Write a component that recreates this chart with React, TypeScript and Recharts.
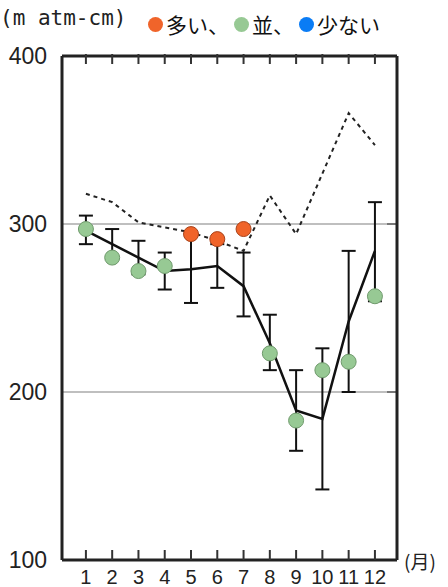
import React from 'react'
import {
  ComposedChart,
  Line,
  XAxis,
  YAxis,
  CartesianGrid,
  ErrorBar,
  ReferenceLine,
} from 'recharts'

// months and values
const months = [1, 2, 3, 4, 5, 6, 7, 8, 9, 10, 11, 12]
const meanValues = [296, 288, 280, 272, 273, 275, 263, 229, 189, 184, 242, 284]
const errLow = [8, 9, 10, 11, 20, 13, 18, 16, 24, 42, 42, 30]
const errHigh = [9, 9, 10, 11, 20, 13, 20, 17, 24, 42, 42, 29]
const dottedValues = [318, 313, 301, 298, 295, 290, 284, 317, 294, 330, 366, 347]
const observed = [297, 280, 272, 275, 294, 291, 297, 223, 183, 213, 218, 257]
const level = ['n', 'n', 'n', 'n', 'h', 'h', 'h', 'n', 'n', 'n', 'n', 'n']
const yTicks = [100, 200, 300, 400]
const rightTicks = [200, 300]

const X_DOMAIN: [number, number] = [0.09, 12.84]
const Y_DOMAIN: [number, number] = [100, 400]

const ORANGE = '#f0642a'
const GREEN = '#97c994'
const BLUE = '#0a7cf5'

const data = months.map((m, i) => ({
  m,
  mean: meanValues[i],
  err: [errLow[i], errHigh[i]],
  dotted: dottedValues[i],
  high: level[i] === 'h' ? observed[i] : null,
  normal: level[i] === 'n' ? observed[i] : null,
}))

const font = "'Liberation Sans', Arial, sans-serif"

const BottomTick = ({ x, y, payload }: any) => (
  <g>
    <line x1={x} x2={x} y1={y} y2={y - 10} stroke="#333" strokeWidth={2} />
    <text x={x} y={y + 24} textAnchor="middle" fontSize={20} fontFamily={font} fill="#222">
      {payload.value}
    </text>
  </g>
)

// draws a short inward tick under the top frame line
const TopTick = ({ x, y }: any) => (
  <line x1={x} x2={x} y1={y} y2={y + 10} stroke="#333" strokeWidth={2} />
)

export default function App() {
  return (
    <div
      style={{
        position: 'absolute',
        left: 0,
        top: 0,
        width: 448,
        height: 587,
        background: '#fff',
        overflow: 'hidden',
      }}
    >
      <ComposedChart
        width={448}
        height={587}
        data={data}
        margin={{ top: 55, right: 50, left: 0, bottom: 0 }}
      >
        <CartesianGrid
          xAxisId="b"
          horizontal
          vertical={false}
          stroke="#aaa"
          strokeWidth={1.5}
        />
        <XAxis
          xAxisId="b"
          dataKey="m"
          type="number"
          domain={X_DOMAIN}
          ticks={months}
          interval={0}
          height={27}
          tickSize={0}
          tickMargin={0}
          tick={<BottomTick />}
          axisLine={{ stroke: '#222', strokeWidth: 3 }}
        />
        <XAxis
          xAxisId="t"
          orientation="top"
          dataKey="m"
          type="number"
          domain={X_DOMAIN}
          ticks={months}
          interval={0}
          height={1}
          tickSize={0}
          tick={<TopTick />}
          axisLine={{ stroke: '#222', strokeWidth: 3 }}
        />
        <YAxis
          domain={Y_DOMAIN}
          ticks={yTicks}
          width={62}
          tickLine={false}
          tickMargin={9}
          tick={{ fontSize: 23, fill: '#222', fontFamily: font }}
          axisLine={{ stroke: '#222', strokeWidth: 3 }}
        />
        <YAxis
          yAxisId="r"
          orientation="right"
          domain={Y_DOMAIN}
          width={1}
          tick={false}
          tickLine={false}
          axisLine={{ stroke: '#222', strokeWidth: 3 }}
        />
        {/* short ticks on the right frame */}
        {rightTicks.map((v) => (
          <ReferenceLine
            key={`r${v}`}
            xAxisId="b"
            segment={[
              { x: 12.46, y: v },
              { x: 12.84, y: v },
            ]}
            stroke="#777"
            strokeWidth={2}
            ifOverflow="visible"
          />
        ))}
        <Line
          xAxisId="b"
          dataKey="dotted"
          stroke="#222"
          strokeWidth={2}
          strokeDasharray="4 4"
          dot={false}
          isAnimationActive={false}
        />
        <Line
          xAxisId="b"
          dataKey="mean"
          stroke="#111"
          strokeWidth={2.5}
          dot={false}
          isAnimationActive={false}
        >
          <ErrorBar dataKey="err" direction="y" width={7} stroke="#111" strokeWidth={2} />
        </Line>
        <Line
          xAxisId="b"
          dataKey="normal"
          stroke="none"
          dot={{ r: 7.5, fill: GREEN, stroke: '#6f9a6c', strokeWidth: 1 }}
          isAnimationActive={false}
        />
        <Line
          xAxisId="b"
          dataKey="high"
          stroke="none"
          dot={{ r: 7.5, fill: ORANGE, stroke: '#a8421a', strokeWidth: 1 }}
          isAnimationActive={false}
        />
      </ComposedChart>

      <div
        style={{
          position: 'absolute',
          left: 0,
          top: 6,
          fontFamily: "'DejaVu Sans Mono', monospace",
          fontSize: 21,
          color: '#222',
        }}
      >
        (m atm-cm)
      </div>
      <div
        style={{
          position: 'absolute',
          left: 148,
          top: 10,
          display: 'flex',
          alignItems: 'center',
          fontFamily: "'Noto Sans CJK JP', sans-serif",
          fontSize: 21,
          lineHeight: '28px',
          color: '#111',
        }}
      >
        <span style={{ width: 15, height: 15, borderRadius: '50%', background: ORANGE, marginRight: 3 }} />
        <span style={{ marginRight: 5 }}>多い、</span>
        <span style={{ width: 15, height: 15, borderRadius: '50%', background: GREEN, marginRight: 3 }} />
        <span style={{ marginRight: 5 }}>並、</span>
        <span style={{ width: 15, height: 15, borderRadius: '50%', background: BLUE, marginRight: 3 }} />
        <span>少ない</span>
      </div>
      <div
        style={{
          position: 'absolute',
          left: 404,
          top: 549,
          fontFamily: "'Noto Sans CJK JP', sans-serif",
          fontSize: 19,
          lineHeight: '24px',
          color: '#222',
        }}
      >
        (月)
      </div>
    </div>
  )
}
